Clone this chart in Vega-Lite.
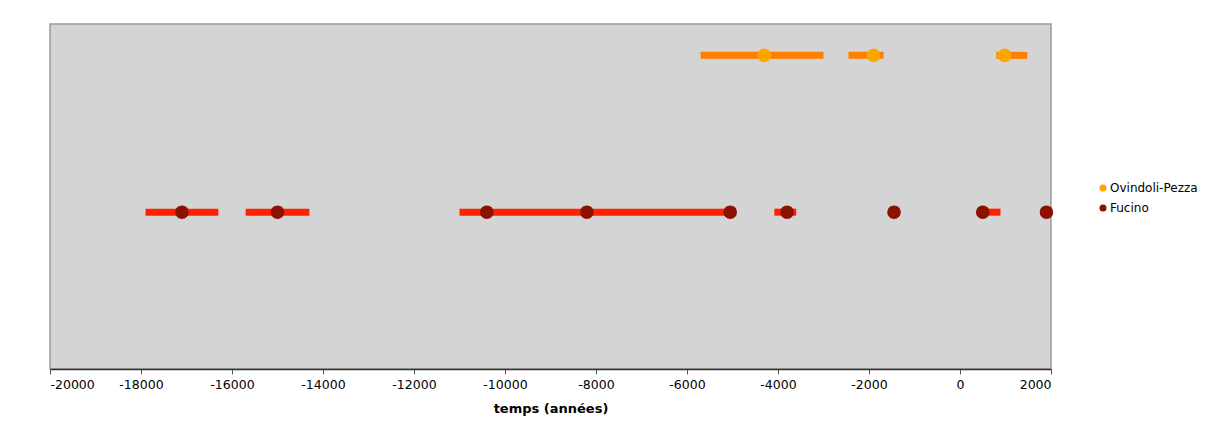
{
  "$schema": "https://vega.github.io/schema/vega-lite/v6.json",
  "autosize": "none",
  "width": 1001,
  "height": 345,
  "padding": {"left": 50, "top": 24, "right": 163, "bottom": 68},
  "background": "white",
  "config": {
    "font": "DejaVu Sans",
    "view": {"fill": "#D4D4D4", "stroke": "#9A9A9A", "strokeWidth": 1.5}
  },
  "data": {
    "values": [
      {"site": "Fucino", "y": 1, "age": -17100, "lo": -17900, "hi": -16300},
      {"site": "Fucino", "y": 1, "age": -15000, "lo": -15700, "hi": -14300},
      {"site": "Fucino", "y": 1, "age": -10400, "lo": -11000, "hi": -5000},
      {"site": "Fucino", "y": 1, "age": -8200, "lo": null, "hi": null},
      {"site": "Fucino", "y": 1, "age": -5050, "lo": null, "hi": null},
      {"site": "Fucino", "y": 1, "age": -3800, "lo": -4080, "hi": -3600},
      {"site": "Fucino", "y": 1, "age": -1450, "lo": null, "hi": null},
      {"site": "Fucino", "y": 1, "age": 500, "lo": 380, "hi": 890},
      {"site": "Fucino", "y": 1, "age": 1900, "lo": null, "hi": null},
      {"site": "Ovindoli-Pezza", "y": 2, "age": -4300, "lo": -5700, "hi": -3000},
      {"site": "Ovindoli-Pezza", "y": 2, "age": -1900, "lo": -2450, "hi": -1680},
      {"site": "Ovindoli-Pezza", "y": 2, "age": 980, "lo": 800, "hi": 1480}
    ]
  },
  "encoding": {
    "y": {"field": "y", "type": "quantitative", "scale": {"domain": [0, 2.2], "nice": false, "zero": false}, "axis": null}
  },
  "layer": [
    {
      "transform": [{"filter": "datum.lo != null"}],
      "mark": {"type": "rule", "strokeWidth": 7, "strokeCap": "butt"},
      "encoding": {
        "x": {"field": "lo", "type": "quantitative"},
        "x2": {"field": "hi"},
        "stroke": {"field": "site", "type": "nominal", "scale": {"domain": ["Ovindoli-Pezza", "Fucino"], "range": ["#FF8000", "#FF2200"]}, "legend": null}
      }
    },
    {
      "mark": {"type": "circle", "size": 185, "opacity": 1},
      "encoding": {
        "x": {
          "field": "age", "type": "quantitative",
          "scale": {"domain": [-20000, 2000], "nice": false, "zero": false},
          "axis": {
            "title": "temps (années)",
            "titleFontSize": 13, "titleFontWeight": "bold", "titleColor": "black", "titlePadding": 12,
            "labelFontSize": 12.5, "labelColor": "black", "labelPadding": 4,
            "labelExpr": "'' + datum.value",
            "values": [-20000, -18000, -16000, -14000, -12000, -10000, -8000, -6000, -4000, -2000, 0, 2000],
            "grid": false, "tickSize": 5, "tickColor": "#555555",
            "domainColor": "#333333", "domainWidth": 1.5
          }
        },
        "fill": {
          "field": "site", "type": "nominal",
          "scale": {"domain": ["Ovindoli-Pezza", "Fucino"], "range": ["#FFA500", "#8B1100"]},
          "legend": {
            "title": null, "orient": "none", "legendX": 1047, "legendY": 158,
            "symbolType": "circle", "symbolSize": 50, "labelFontSize": 12, "labelColor": "black",
            "rowPadding": 8, "labelOffset": 1
          }
        }
      }
    }
  ],
  "resolve": {"legend": {"fill": "independent", "stroke": "independent"}}
}
